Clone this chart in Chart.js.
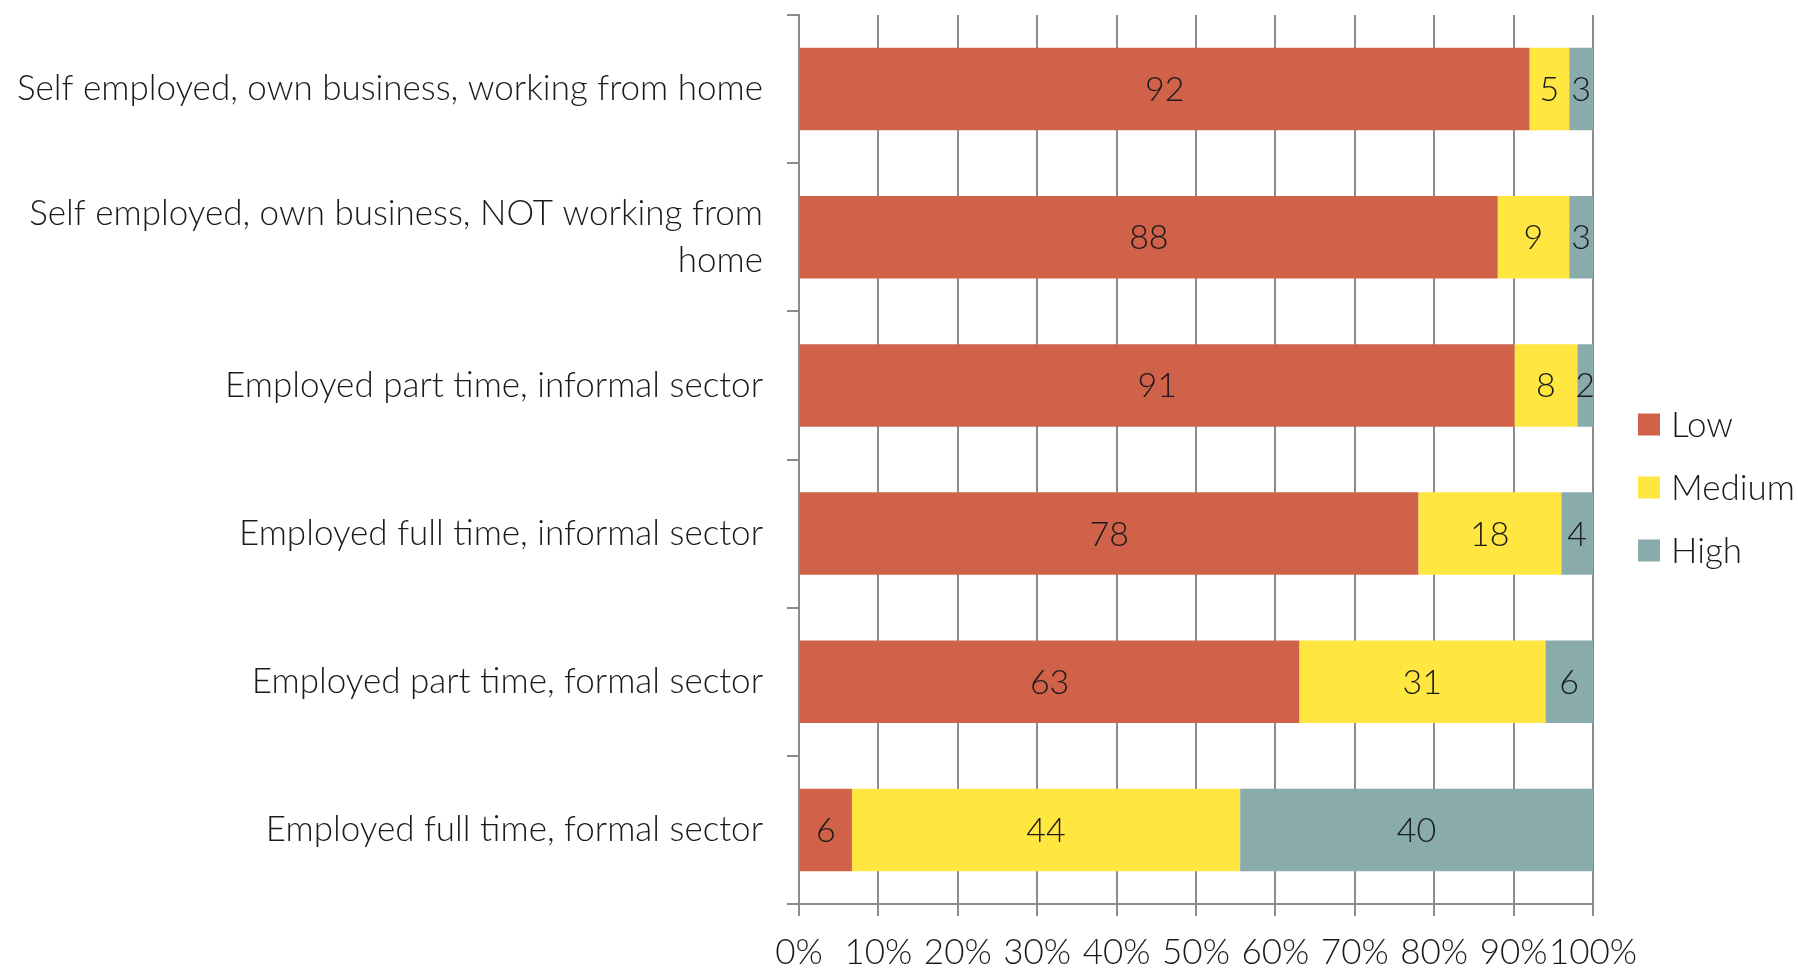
<!DOCTYPE html>
<html>
<head>
<meta charset="utf-8">
<title>Employment type by level</title>
<script src="https://cdn.jsdelivr.net/npm/chart.js@4/dist/chart.umd.min.js"></script>
<style>
  html, body { margin: 0; padding: 0; background: #ffffff; }
  #wrap { width: 1798px; height: 970px; }
</style>
</head>
<body>
<div id="wrap"><canvas id="chart" width="1798" height="970"></canvas></div>
<script>
// Employment categories, listed top to bottom
const categories = [
  'Self employed, own business, working from home',
  ['Self employed, own business, NOT working from', 'home'],
  'Employed part time, informal sector',
  'Employed full time, informal sector',
  'Employed part time, formal sector',
  'Employed full time, formal sector'
];

// Values per level for each category
const lowValues    = [92, 88, 91, 78, 63, 6];
const mediumValues = [5, 9, 8, 18, 31, 44];
const highValues   = [3, 3, 2, 4, 6, 40];

const seriesNames  = ['Low', 'Medium', 'High'];
const seriesColors = ['#D0624A', '#FFE640', '#8AABAB'];

// Percentage axis ticks
const xTicks = [0, 10, 20, 30, 40, 50, 60, 70, 80, 90, 100];

const FONT_FAMILY = 'Lato, "Open Sans", sans-serif';
const TEXT_COLOR = '#1a1a1a';
const GRID_COLOR = '#8c8c8c';

// 100% stacking: each segment is its share of the row total
const rawSeries = [lowValues, mediumValues, highValues];
const rowTotals = categories.map((_, i) => rawSeries.reduce((s, arr) => s + arr[i], 0));
const shares = rawSeries.map(arr => arr.map((v, i) => v / rowTotals[i] * 100));

const datasets = seriesNames.map((name, k) => ({
  label: name,
  data: shares[k],
  raw: rawSeries[k],
  backgroundColor: seriesColors[k],
  borderWidth: 0,
  barPercentage: 0.557,
  categoryPercentage: 1
}));

// Writes each segment's value at the middle of its bar
const valueLabels = {
  id: 'valueLabels',
  afterDatasetsDraw(chart) {
    const ctx = chart.ctx;
    ctx.save();
    ctx.font = '300 34px ' + FONT_FAMILY;
    ctx.fillStyle = TEXT_COLOR;
    ctx.textAlign = 'center';
    ctx.textBaseline = 'middle';
    chart.data.datasets.forEach((ds, di) => {
      const meta = chart.getDatasetMeta(di);
      meta.data.forEach((bar, i) => {
        const cx = (bar.x + bar.base) / 2;
        ctx.fillText(String(ds.raw[i]), cx, bar.y + 1);
      });
    });
    ctx.restore();
  }
};

// Vertical legend to the right of the plot
const sideLegend = {
  id: 'sideLegend',
  afterDraw(chart) {
    const ctx = chart.ctx;
    const area = chart.chartArea;
    const box = 22;
    const step = 63;
    const x = area.right + 45;
    const n = chart.data.datasets.length;
    const midY = (area.top + area.bottom) / 2 + 28;
    ctx.save();
    ctx.font = '300 35px ' + FONT_FAMILY;
    ctx.textBaseline = 'middle';
    ctx.textAlign = 'left';
    chart.data.datasets.forEach((ds, i) => {
      const cy = midY + (i - (n - 1) / 2) * step;
      ctx.fillStyle = ds.backgroundColor;
      ctx.fillRect(x, cy - box / 2, box, box);
      ctx.fillStyle = TEXT_COLOR;
      ctx.fillText(ds.label, x + box + 11, cy + 1);
    });
    ctx.restore();
  }
};

new Chart(document.getElementById('chart'), {
  type: 'bar',
  data: { labels: categories, datasets },
  plugins: [valueLabels, sideLegend],
  options: {
    indexAxis: 'y',
    responsive: false,
    animation: false,
    devicePixelRatio: 1,
    layout: { padding: { top: 15, right: 205, bottom: 0, left: 0 } },
    plugins: {
      legend: { display: false },
      tooltip: { enabled: false }
    },
    scales: {
      x: {
        stacked: true,
        min: 0,
        max: 100,
        afterBuildTicks(scale) {
          scale.ticks = xTicks.map(v => ({ value: v }));
        },
        afterFit(scale) { scale.height = 66; },
        ticks: {
          autoSkip: false,
          maxRotation: 0,
          padding: 16,
          color: TEXT_COLOR,
          font: { family: FONT_FAMILY, size: 35, weight: 300 },
          callback: v => v + '%'
        },
        grid: { color: GRID_COLOR, lineWidth: 2, tickLength: 12, drawTicks: true },
        border: { color: GRID_COLOR, width: 2 }
      },
      y: {
        stacked: true,
        afterFit(scale) {
          scale.width = 799;
          scale.paddingTop = 0;
          scale.paddingBottom = 0;
        },
        ticks: {
          padding: 24,
          color: TEXT_COLOR,
          font: { family: FONT_FAMILY, size: 35, weight: 300, lineHeight: 1.34 }
        },
        grid: { offset: true, drawOnChartArea: false, color: GRID_COLOR, lineWidth: 2, tickLength: 12 },
        border: { color: GRID_COLOR, width: 2 }
      }
    }
  }
});
</script>
</body>
</html>
